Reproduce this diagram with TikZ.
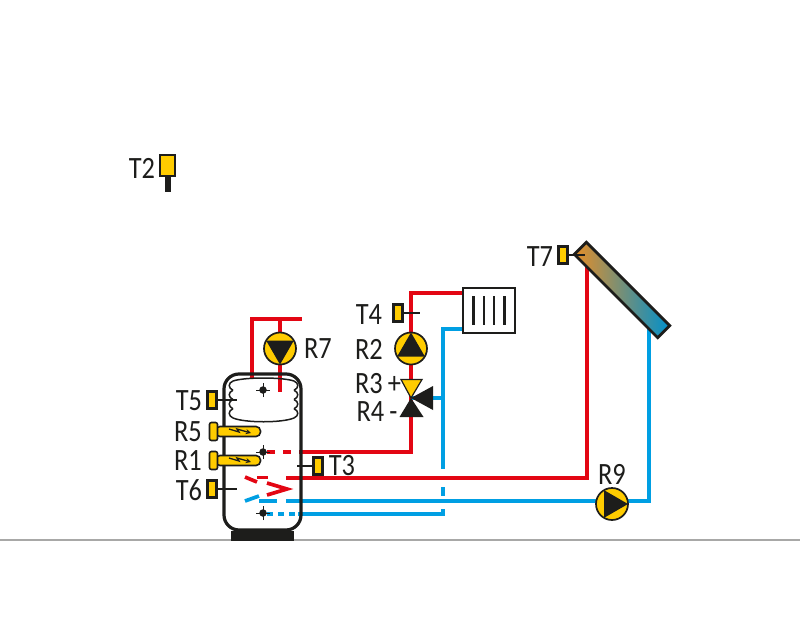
\documentclass[tikz,border=0pt]{standalone}
\usepackage{fontspec}
\setmainfont[FakeStretch=0.85]{Carlito}
\usetikzlibrary{shapes.geometric,backgrounds}
\definecolor{pipered}{HTML}{E30613}
\definecolor{pipeblue}{HTML}{009FE3}
\definecolor{partyellow}{HTML}{FFCC00}
\definecolor{partblack}{HTML}{1D1D1B}
\definecolor{groundgray}{HTML}{A8A8A7}
\definecolor{solarorange}{HTML}{E68E27}
\definecolor{solarmid}{HTML}{9C9A8C}
\definecolor{solarblue}{HTML}{0090CC}
\tikzset{
	redpipe/.style={draw=pipered,line width=3.7pt,line join=miter},
	bluepipe/.style={draw=pipeblue,line width=3.7pt,line join=miter},
	sensor/.style={draw=partblack,fill=partyellow,line width=2.6pt,minimum width=8.5pt,minimum height=16.5pt,inner sep=0pt},
	sensorline/.style={draw=partblack,line width=2pt},
	pump/.style={circle,draw=partblack,fill=partyellow,line width=1.7pt,minimum size=32pt,inner sep=0pt},
	pumptri/.style={regular polygon,regular polygon sides=3,fill=partblack,minimum size=32pt,inner sep=0pt},
	dotmark/.style={circle,fill=partblack,minimum size=7.5pt,inner sep=0pt},
	heaterrod/.style={draw=partblack,fill=partyellow,line width=1.6pt,rounded corners=4.5pt,minimum width=45pt,minimum height=10pt,inner sep=0pt},
	heaterhead/.style={draw=partblack,fill=partyellow,line width=1.6pt,rounded corners=2pt,minimum width=8pt,minimum height=18pt,inner sep=0pt},
	coilline/.style={draw=partblack,line width=1.5pt},
	tag/.style={text=partblack,inner sep=0pt,font=\fontsize{31}{31}\selectfont}
}
\begin{document}
\begin{tikzpicture}[x=1pt,y=-1pt]
	\useasboundingbox (0,0) rectangle (800,640);
	% ground, tank
	\coordinate (groundl) at (0,540);
	\coordinate (groundr) at (800,540);
	\draw[draw=groundgray,line width=2pt] (groundl) -- (groundr);
	\node[fill=partblack,minimum width=63pt,minimum height=10pt,inner sep=0pt] (base) at (262.5,535.5) {};
	\node[draw=partblack,line width=3.2pt,rounded corners=15pt,minimum width=77pt,minimum height=156pt,inner sep=0pt] (tank) at (262.5,452) {};
	% coil
	\coordinate (coiltl) at (233,381);
	\coordinate (coiltr) at (294,381);
	\coordinate (coilbl) at (233,418);
	\coordinate (coilbr) at (294,418);
	\draw[coilline] (coiltl) .. controls (245,377) and (282,377) .. (coiltr);
	\draw[coilline] (coilbl) .. controls (245,423) and (282,423) .. (coilbr);
	\foreach \lobey in {381,390.25,399.5,408.75}{
		\draw[coilline] (233,\lobey) .. controls (228,\lobey+2) and (228,\lobey+7) .. (233,\lobey+9.25);
		\draw[coilline] (294,\lobey) .. controls (299,\lobey+2) and (299,\lobey+7) .. (294,\lobey+9.25);
	}
	% parts
	\node[pump] (r7) at (280,348.5) {};
	\node[pump] (r2) at (411,348.5) {};
	\node[pump] (r9) at (612,504) {};
	\node[pumptri,shape border rotate=180] (r7tri) at (r7) {};
	\node[pumptri] (r2tri) at (r2) {};
	\node[pumptri,shape border rotate=-90] (r9tri) at (r9) {};
	\node[sensor,minimum width=15pt,minimum height=21pt] (t2) at (167.5,165.5) {};
	\node[sensor] (t3) at (318,466) {};
	\node[sensor] (t4) at (398,313) {};
	\node[sensor] (t5) at (212,400) {};
	\node[sensor] (t6) at (212,489) {};
	\node[sensor] (t7) at (563,255) {};
	\node[heaterrod] (r5rod) at (238,431.5) {};
	\node[heaterrod] (r1rod) at (238,460.5) {};
	\node[heaterhead] (r5head) at (213.5,431.5) {};
	\node[heaterhead] (r1head) at (213.5,460.5) {};
	\node[draw=partblack,fill=white,line width=2.5pt,minimum width=52pt,minimum height=45pt,inner sep=0pt] (radiator) at (489,310.5) {};
	\node[draw=partblack,line width=2.8pt,rotate=-45,minimum width=118pt,minimum height=17pt,inner sep=0pt,left color=solarorange,middle color=solarmid,right color=solarblue] (collector) at (622,290) {};
	\node[dotmark] (dot1) at (263,390) {};
	\node[dotmark] (dot2) at (263,452) {};
	\node[dotmark] (dot3) at (263,513) {};
	\coordinate (valve) at (411,398);
	\filldraw[draw=partblack,fill=partyellow,line width=1.2pt] ([shift={(-10,-18.5)}]valve) -- ([shift={(11,-18.5)}]valve) -- (valve) -- cycle;
	\fill[partblack] ([shift={(-11.5,19)}]valve) -- ([shift={(12.5,19)}]valve) -- (valve) -- cycle;
	\fill[partblack] ([shift={(22,-12)}]valve) -- ([shift={(22,12)}]valve) -- (valve) -- cycle;
	\foreach \rod in {r5rod,r1rod}{
		\draw[draw=partblack,line width=1.3pt,-stealth] ([shift={(-9,-2.5)}]\rod.center) -- ([shift={(1,0.5)}]\rod.center) -- ([shift={(-1,-2.5)}]\rod.center) -- ([shift={(13,1.5)}]\rod.center);
	}
	\foreach \dotname in {dot1,dot2,dot3}{
		\draw[draw=partblack,line width=0.8pt] ([yshift=-7pt]\dotname.center) -- ([yshift=7pt]\dotname.center);
		\draw[draw=partblack,line width=0.8pt] ([xshift=-7pt]\dotname.center) -- ([xshift=7pt]\dotname.center);
	}
	% radiator bars
	\foreach \barx in {-15.5,-5,5,15.5}{
		\draw[draw=partblack,line width=2.2pt] ([shift={(\barx,-14.5)}]radiator.center) -- ([shift={(\barx,14.5)}]radiator.center);
	}
	% sensor stubs
	\coordinate (t3end) at (297,466);
	\coordinate (t4end) at (420,313);
	\coordinate (t5end) at (237,400);
	\coordinate (t6end) at (237,489);
	\coordinate (t7end) at (585,255);
	\coordinate (t2end) at (167.5,192);
	\draw[sensorline] (t3.west) -- (t3end);
	\draw[sensorline] (t4.east) -- (t4end);
	\draw[sensorline] (t5.east) -- (t5end);
	\draw[sensorline] (t6.east) -- (t6end);
	\draw[sensorline] (t7.east) -- (t7end);
	\draw[sensorline,line width=6pt] (t2.south) -- (t2end);
	% pipes go behind the parts
	\begin{scope}[on background layer]
		\coordinate (topl) at (252,319);
		\coordinate (topr) at (302,319);
		\coordinate (topm) at (280,319);
		\coordinate (coilin) at (252,378);
		\coordinate (coilout) at (280,392);
		\coordinate (hotcorner) at (411,452);
		\coordinate (hotstart) at (267,452);
		\coordinate (hotsolid) at (300,452);
		\coordinate (radcorner) at (411,293);
		\coordinate (radinr) at (463,293);
		\coordinate (radoutr) at (463,329);
		\coordinate (radcorner2) at (443,329);
		\coordinate (retbreak) at (443,469);
		\coordinate (valvetee) at (443,398);
		\coordinate (solarcorner) at (587,478);
		\coordinate (solartop) at (587,250);
		\coordinate (solarret) at (649,501);
		\coordinate (solarrettop) at (649,326);
		\coordinate (solarl) at (286,478);
		\coordinate (bluel) at (286,501);
		\coordinate (bluer) at (612,501);
		\coordinate (lowl) at (298,514);
		\coordinate (lowr) at (443,514);
		\coordinate (lowup) at (443,509);
		\coordinate (gaptop) at (443,487);
		\coordinate (gapbot) at (443,496);
		\draw[redpipe] (coilin) -- (topl) -- (topr);
		\draw[redpipe] (topm) -- (coilout);
		\draw[redpipe] (hotsolid) -- (hotcorner) -- (valve) -- (r2) -- (radcorner) -- (radinr);
		\draw[redpipe,dash pattern=on 8pt off 8pt] (hotstart) -- (hotsolid);
		\draw[bluepipe] (radoutr) -- (radcorner2) -- (retbreak);
		\draw[bluepipe] (valve) -- (valvetee);
		\draw[bluepipe] (gaptop) -- (gapbot);
		\draw[bluepipe] (lowl) -- (lowr) -- (lowup);
		\draw[bluepipe,dash pattern=on 5.5pt off 5.5pt] (267,514) -- (lowl);
		\draw[redpipe] (solarl) -- (solarcorner) -- (solartop);
		\draw[redpipe] (257,477.5) -- (268,477.5);
		\draw[redpipe] (245,477) -- (257,482);
		\draw[redpipe] (267,483) -- (287,489) -- (267,495);
		\draw[bluepipe] (bluel) -- (bluer) -- (solarret) -- (solarrettop);
		\draw[bluepipe] (259,501) -- (277,501);
		\draw[bluepipe] (245,501) -- (259,496);
	\end{scope}
	% labels
	\node[tag] (t2text) at (142,168) {T2};
	\node[tag] (r7text) at (318,349) {R7};
	\node[tag] (t5text) at (189,401) {T5};
	\node[tag] (r5text) at (188,432) {R5};
	\node[tag] (r1text) at (188,461) {R1};
	\node[tag] (t6text) at (189,490) {T6};
	\node[tag] (t3text) at (342,466) {T3};
	\node[tag] (t4text) at (369,315) {T4};
	\node[tag] (r2text) at (369,349) {R2};
	\node[tag] (r3text) at (378,384) {R3\,+};
	\node[tag] (r4text) at (377,412) {R4\,-};
	\node[tag] (t7text) at (540,257) {T7};
	\node[tag] (r9text) at (612,474) {R9};
\end{tikzpicture}
\end{document}
